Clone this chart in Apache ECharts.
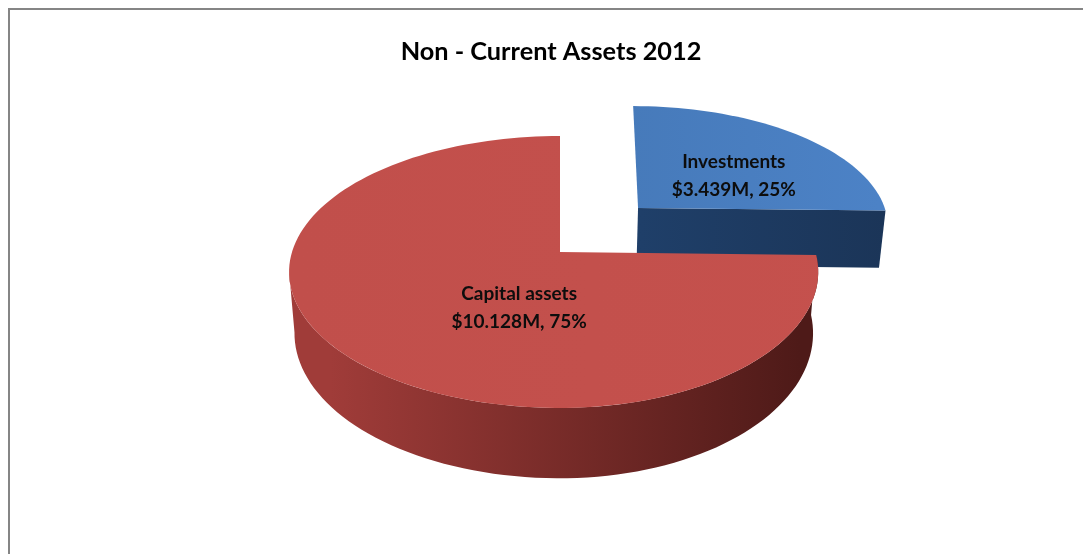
<!DOCTYPE html>
<html><head><meta charset="utf-8">
<style>html,body{margin:0;padding:0;background:#fff}#c{width:1083px;height:554px}</style>
<script src="https://cdn.jsdelivr.net/npm/echarts@6/dist/echarts.min.js"></script>
</head><body><div id="c"></div>
<script>
const categories = ['Investments', 'Capital assets'];
const values = [3.439, 10.128];
const valueLabels = ['$3.439M, 25%', '$10.128M, 75%'];
const titleText = 'Non - Current Assets 2012';

const total = values.reduce((a, b) => a + b, 0);
const FONT = 'Lato, "Open Sans", sans-serif';
// projection of the tilted disc
const P = { cx: 560, cy: 252, rxR: 258, rxL: 268, s: 133, k: 0.147, depth: 60, shrink: 0.98 };
const looks = [
  { ex: 0.318, ey: -0.348, yScale: 0.96, lean: 0.02, xScale: 1.005, label: [0.5, 55],
    top: ['#3f70ab', '#4c82c6'], side: ['#1f3f69', '#1b3558'] },
  { ex: 0, ey: 0, yScale: 1, lean: 0, xScale: 0.99, label: [0.42, 200],
    top: ['#c14f4b', '#c5514d'], side: ['#a03c39', '#4e1a18'] }
];
function project(X, Y, low) {
  const w = 1 - P.k * Y;
  const r = X < 0 ? P.rxL : P.rxR;
  let x = r * X / w, y = P.s * Y / w;
  if (low) { x *= P.shrink; y += P.depth / w; }
  return [P.cx + x, P.cy + y];
}
function rimPoint(look, aDeg, r, low) {
  const a = aDeg * Math.PI / 180;
  const sx = r * Math.sin(a), cy = r * Math.cos(a);
  const X = sx < 0 ? sx : sx * look.xScale;
  return project(look.ex + X + look.lean * cy, look.ey - look.yScale * cy, low);
}
function arc(look, a0, a1, low) {
  const pts = [], n = Math.max(2, Math.ceil(Math.abs(a1 - a0) / 2));
  for (let i = 0; i <= n; i++) pts.push(rimPoint(look, a0 + (a1 - a0) * i / n, 1, low));
  return pts;
}
function grad(c0, c1, x0, x1) {
  return new echarts.graphic.LinearGradient(x0, 0, x1, 0,
    [{ offset: 0, color: c0 }, { offset: 1, color: c1 }], true);
}
function renderItem(params, api) {
  const i = params.dataIndex, look = looks[i];
  const start = values.slice(0, i).reduce((a, b) => a + b, 0) / total * 360;
  const end = start + api.value(0) / total * 360;
  const children = [];
  if (i === 0) {
    // cut face of the exploded slice, seen from the front
    const pts = [rimPoint(look, end, 0, false), rimPoint(look, end, 1, false),
                 rimPoint(look, end, 1, true), rimPoint(look, end, 0, true)];
    children.push({ type: 'polygon', shape: { points: pts },
      style: { fill: grad(look.side[0], look.side[1], 640, 885) } });
  } else {
    // curved wall along the front of the disc, up to the leftmost tangent
    const wallEnd = Math.min(end, 262);
    const pts = arc(look, start, wallEnd, false).concat(arc(look, wallEnd, start, true));
    children.push({ type: 'polygon', shape: { points: pts },
      style: { fill: grad(look.side[1], look.side[0], 800, 330) } });
  }
  const topPts = [rimPoint(look, 0, 0, false)].concat(arc(look, start, end, false));
  children.push({ type: 'polygon', shape: { points: topPts },
    style: { fill: grad(look.top[0], look.top[1], 300, 880) } });
  const lp = rimPoint(look, look.label[1], look.label[0], false);
  children.push({ type: 'text', z2: 10, style: {
    text: categories[i] + '\n' + valueLabels[i], x: lp[0], y: lp[1],
    align: 'center', verticalAlign: 'middle', font: 'bold 19px ' + FONT,
    lineHeight: 28, fill: '#0d0d0d' } });
  return { type: 'group', children };
}
const chart = echarts.init(document.getElementById('c'), null, { renderer: 'canvas' });
chart.setOption({
  animation: false,
  backgroundColor: '#ffffff',
  title: { text: titleText, left: 546, top: 34, textAlign: 'center',
    textStyle: { fontFamily: FONT, fontWeight: 'bold', fontSize: 25.3, color: '#000' } },
  graphic: [
    { type: 'line', shape: { x1: 8, y1: 9, x2: 1083, y2: 9 }, style: { stroke: '#858585', lineWidth: 2 } },
    { type: 'line', shape: { x1: 9, y1: 9, x2: 9, y2: 554 }, style: { stroke: '#858585', lineWidth: 2 } }
  ],
  series: [{ type: 'custom', coordinateSystem: 'none', renderItem,
    data: values.map((v, i) => ({ name: categories[i], value: [v] })) }]
});
</script></body></html>
